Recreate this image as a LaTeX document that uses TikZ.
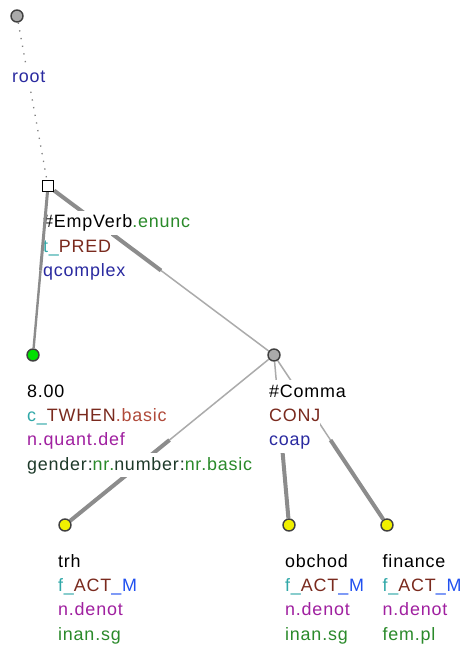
\documentclass[tikz,border=0pt]{standalone}
\usepackage{fontspec}
\setmainfont{Liberation Sans}[LetterSpace=4.5]
\usetikzlibrary{calc,backgrounds}
\definecolor{cgreen}{HTML}{2A8A2A}
\definecolor{cteal}{HTML}{30A8A8}
\definecolor{cbrown}{HTML}{7A2A1E}
\definecolor{cbrownl}{HTML}{B04A3A}
\definecolor{cblue}{HTML}{2A2AA0}
\definecolor{cpurple}{HTML}{A020A0}
\definecolor{cbright}{HTML}{2050F0}
\definecolor{cdark}{HTML}{1E3A2A}
\definecolor{edgedark}{HTML}{8C8C8C}
\definecolor{edgelight}{HTML}{ABABAB}
\definecolor{nodegray}{HTML}{AAAAAA}
\definecolor{nodegreen}{HTML}{00E000}
\definecolor{nodeyellow}{HTML}{F0F000}
\newcommand\labline[1]{{\setlength\fboxsep{0pt}\colorbox{white}{\strut #1}}}
\begin{document}
\begin{tikzpicture}[x=1pt,y=-1pt,
  lab/.style={anchor=north west, inner sep=0pt, align=left, font=\fontsize{17.9}{24.3}\selectfont},
  tnode/.style={circle, draw=black!75, line width=1.4pt, minimum size=12pt, inner sep=0pt},
  boldedge/.style={line width=4pt, draw=edgedark},
  thinedge/.style={line width=1.5pt, draw=edgelight},
  rootedge/.style={line width=1.3pt, draw=gray, dash pattern=on 1.3pt off 6.5pt}]
\useasboundingbox (0,0) rectangle (462,646);
% nodes
\node[tnode, fill=nodegray] (root) at (17,16) {};
\node[draw=black, fill=white, line width=1.2pt, minimum size=11pt, inner sep=0pt] (pred) at (48,186) {};
\node[tnode, fill=nodegreen] (n800) at (33,355) {};
\node[tnode, fill=nodegray] (comma) at (274,355) {};
\node[tnode, fill=nodeyellow] (trh) at (65,525) {};
\node[tnode, fill=nodeyellow] (obchod) at (289,525) {};
\node[tnode, fill=nodeyellow] (finance) at (387,525) {};
% edges
\begin{scope}[on background layer]
\fill[white] (0,0) rectangle (462,646);
\draw[rootedge] (root) -- (pred);
\draw[boldedge] (pred) -- ($(pred)!0.5!(comma)$);
\draw[thinedge] ($(pred)!0.5!(comma)$) -- (comma);
\draw[thinedge] (comma) -- ($(comma)!0.5!(trh)$);
\draw[boldedge] ($(comma)!0.5!(trh)$) -- (trh);
\draw[thinedge] (comma) -- ($(comma)!0.5!(obchod)$);
\draw[boldedge] ($(comma)!0.5!(obchod)$) -- (obchod);
\draw[thinedge] (comma) -- ($(comma)!0.5!(finance)$);
\draw[boldedge] ($(comma)!0.5!(finance)$) -- (finance);
\end{scope}
% labels
\node[lab] (lroot) at ($(root)+(-5,25)$) {\strut\\ \labline{\textcolor{cblue}{root}}};
\node[lab] (lpred) at ($(pred)+(-5,24.5)$) {\labline{\#EmpVerb\textcolor{cgreen}{.enunc}}\\
  \labline{\textcolor{cteal}{t\_}\textcolor{cbrown}{PRED}}\\
  \labline{\textcolor{cblue}{qcomplex}}};
\node[lab] (l800) at ($(n800)+(-6,25)$) {\labline{8.00}\\
  \labline{\textcolor{cteal}{c\_}\textcolor{cbrown}{TWHEN}\textcolor{cbrownl}{.basic}}\\
  \labline{\textcolor{cpurple}{n.quant.def}}\\
  \labline{\textcolor{cdark}{gender:}\textcolor{cgreen}{nr.}\textcolor{cdark}{number:}\textcolor{cgreen}{nr.basic}}};
\node[lab] (lcomma) at ($(comma)+(-5,25)$) {\labline{\#Comma}\\
  \labline{\textcolor{cbrown}{CONJ}}\\
  \labline{\textcolor{cblue}{coap}}};
\node[lab] (ltrh) at ($(trh)+(-7,25)$) {\labline{trh}\\
  \labline{\textcolor{cteal}{f\_}\textcolor{cbrown}{ACT}\textcolor{cbright}{\_M}}\\
  \labline{\textcolor{cpurple}{n.denot}}\\
  \labline{\textcolor{cgreen}{inan.sg}}};
\node[lab] (lobchod) at ($(obchod)+(-4,25)$) {\labline{obchod}\\
  \labline{\textcolor{cteal}{f\_}\textcolor{cbrown}{ACT}\textcolor{cbright}{\_M}}\\
  \labline{\textcolor{cpurple}{n.denot}}\\
  \labline{\textcolor{cgreen}{inan.sg}}};
\node[lab] (lfinance) at ($(finance)+(-4.5,25)$) {\labline{finance}\\
  \labline{\textcolor{cteal}{f\_}\textcolor{cbrown}{ACT}\textcolor{cbright}{\_M}}\\
  \labline{\textcolor{cpurple}{n.denot}}\\
  \labline{\textcolor{cgreen}{fem.pl}}};
% edge to 8.00 drawn on top
\draw[line width=3pt, draw=edgedark] (pred) -- ($(pred)!0.5!(n800)$);
\draw[line width=2.4pt, draw=edgedark] ($(pred)!0.5!(n800)$) -- (n800);
\end{tikzpicture}
\end{document}
